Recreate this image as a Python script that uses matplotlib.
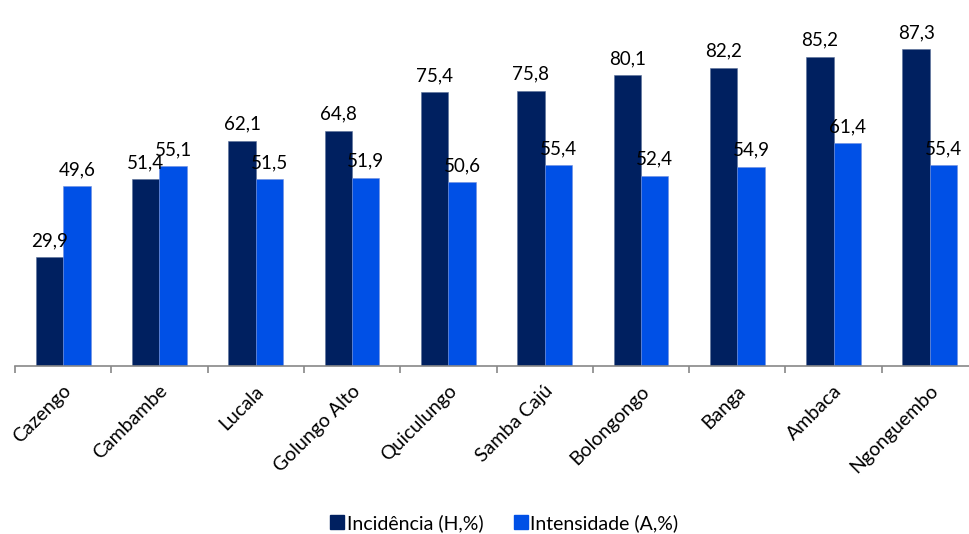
import numpy as np
import matplotlib.pyplot as plt
from matplotlib.lines import Line2D

plt.rcParams['font.family'] = ['Lato', 'DejaVu Sans']

municipios = ["Cazengo", "Cambambe", "Lucala", "Golungo Alto", "Quiculungo",
              "Samba Cajú", "Bolongongo", "Banga", "Ambaca", "Ngonguembo"]
incidencia = [29.9, 51.4, 62.1, 64.8, 75.4, 75.8, 80.1, 82.2, 85.2, 87.3]
intensidade = [49.6, 55.1, 51.5, 51.9, 50.6, 55.4, 52.4, 54.9, 61.4, 55.4]

DARK = '#002060'
BLUE = '#0050E6'

W, H = 969, 534
fig = plt.figure(figsize=(W / 100, H / 100), dpi=100)
# axes runs slightly past the right edge, like the cropped original
left, right, base, top = 15, 978, 366, 3
ax = fig.add_axes([left / W, (H - base) / H, (right - left) / W, (base - top) / H])

x = np.arange(len(municipios))
bw = 0.285
b1 = ax.bar(x - bw / 2, incidencia, bw, color=DARK, edgecolor='#5a6f99', linewidth=0.4)
b2 = ax.bar(x + bw / 2, intensidade, bw, color=BLUE, edgecolor='#6f8fe0', linewidth=0.4)

for bars, vals in ((b1, incidencia), (b2, intensidade)):
    for b, v in zip(bars, vals):
        ax.text(b.get_x() + b.get_width() / 2, v + 2.2, f"{v:.1f}".replace('.', ','),
                ha='center', va='bottom', fontsize=13.5, color='black')

ax.set_xlim(-0.5, len(municipios) - 0.5)
ax.set_ylim(0, 100)
for s in ['top', 'right', 'left']:
    ax.spines[s].set_visible(False)
ax.spines['bottom'].set_color('#888888')
ax.spines['bottom'].set_linewidth(1.2)
ax.set_yticks([])

ax.set_xticks(np.arange(len(municipios) + 1) - 0.5)
ax.set_xticklabels([])
ax.tick_params(axis='x', direction='out', length=5, width=1.2, color='#888888')
for i, name in enumerate(municipios):
    ax.annotate(name, xy=(i, 0), xycoords=('data', 'axes fraction'),
                xytext=(4, -16), textcoords='offset points',
                rotation=45, rotation_mode='anchor', ha='right', va='center',
                fontsize=14)

handles = [Line2D([], [], marker='s', linestyle='', color=DARK, markersize=10),
           Line2D([], [], marker='s', linestyle='', color=BLUE, markersize=10)]
fig.legend(handles, ["Incidência (H,%)", "Intensidade (A,%)"], loc='center',
           bbox_to_anchor=(503 / W, 1 - 523 / H), ncol=2, frameon=False,
           fontsize=14, handletextpad=0.0, columnspacing=1.4, handlelength=1.0)

fig.savefig('out.png', dpi=100)
